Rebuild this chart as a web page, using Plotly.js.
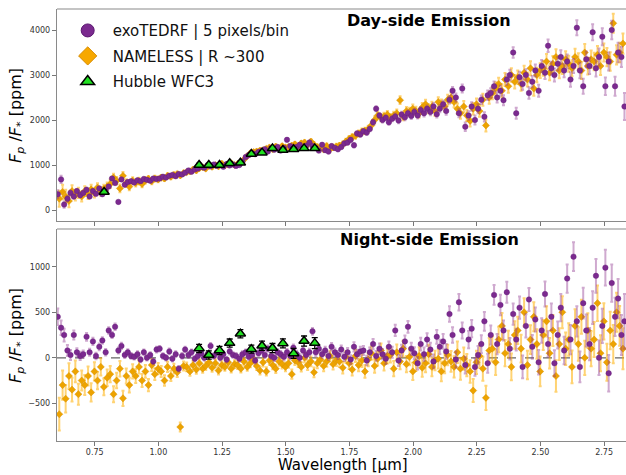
<!DOCTYPE html>
<html>
<head>
<meta charset="utf-8">
<script src="https://cdn.plot.ly/plotly-3.0.1.min.js"></script>
<style>html,body{margin:0;padding:0;background:#fff;}#chart{width:626px;height:475px;}</style>
</head>
<body>
<div id="chart"></div>
<script>
// ---- Data ----
const tedrfWave = [
0.605,0.618,0.630,0.643,0.655,0.668,0.680,0.693,
0.705,0.718,0.730,0.743,0.755,0.768,0.780,0.793,
0.805,0.818,0.830,0.843,0.855,0.868,0.880,0.893,
0.905,0.918,0.930,0.943,0.955,0.968,0.980,0.993,
1.005,1.018,1.030,1.043,1.055,1.068,1.080,1.093,
1.105,1.118,1.130,1.143,1.155,1.168,1.180,1.193,
1.205,1.218,1.230,1.243,1.255,1.268,1.280,1.293,
1.305,1.318,1.330,1.343,1.355,1.368,1.380,1.393,
1.405,1.418,1.430,1.443,1.455,1.468,1.480,1.493,
1.505,1.518,1.530,1.543,1.555,1.568,1.580,1.593,
1.605,1.618,1.630,1.643,1.655,1.668,1.680,1.693,
1.705,1.718,1.730,1.743,1.755,1.768,1.780,1.793,
1.805,1.818,1.830,1.843,1.855,1.868,1.880,1.893,
1.905,1.918,1.930,1.943,1.955,1.968,1.980,1.993,
2.005,2.018,2.030,2.043,2.055,2.068,2.080,2.093,
2.105,2.118,2.130,2.143,2.155,2.168,2.180,2.193,
2.205,2.218,2.230,2.243,2.255,2.268,2.280,2.293,
2.305,2.318,2.330,2.343,2.355,2.368,2.380,2.393,
2.405,2.418,2.430,2.443,2.455,2.468,2.480,2.493,
2.505,2.518,2.530,2.543,2.555,2.568,2.580,2.593,
2.605,2.618,2.630,2.643,2.655,2.668,2.680,2.693,
2.705,2.718,2.730,2.743,2.755,2.768,2.780,2.793,
2.805,2.818,2.830];

const tedrfErr = [
90,80,70,60,55,50,45,45,
40,42,38,40,36,38,35,36,
35,34,36,33,34,32,33,32,
30,32,30,31,30,32,30,31,
30,31,30,32,30,31,30,32,
30,32,31,30,33,31,30,32,
32,30,33,31,32,30,33,31,
32,34,33,32,35,33,34,33,
34,33,35,34,36,34,35,36,
36,35,37,36,38,36,37,38,
38,40,39,41,40,42,41,43,
44,46,45,48,47,50,49,52,
50,53,52,55,54,57,56,58,
58,60,62,60,63,65,64,66,
66,68,70,72,70,74,76,75,
78,80,82,85,84,88,90,88,
92,95,94,98,100,97,102,105,
105,108,110,112,110,115,118,116,
120,122,125,128,126,130,132,135,
135,138,140,145,142,148,150,152,
155,160,158,165,170,168,175,178,
180,185,190,188,195,200,205,210,
215,220,300];

const tedrfDay = [
350,680,120,250,380,300,420,330,
380,450,300,420,360,480,350,430,
520,700,600,180,680,560,620,640,
610,660,640,690,670,650,700,690,
700,740,720,760,780,750,800,790,
830,880,850,900,920,960,940,990,
970,1010,980,1000,960,1020,990,1010,
980,1000,1080,1180,1220,1260,1240,1290,
1310,1350,1300,1380,1340,1400,1320,1380,
1560,1420,1360,1400,1450,1380,1430,1500,
1420,1380,1320,1450,1330,1300,1420,1380,
1350,1400,1480,1500,1560,1440,1700,1680,
1750,1720,1800,1950,2250,2100,2000,2050,
1950,2030,2080,1990,2120,2060,2150,2090,
2180,2100,2220,2150,2250,2180,2300,2130,
2250,2350,2200,2450,2650,2500,2150,2700,
1850,2100,2300,2000,2250,2450,2070,2550,
2600,2750,2500,2650,2440,2900,3000,3500,
2150,2950,2800,3000,2600,2850,3100,2650,
3200,3050,3650,3150,3000,3250,3400,3100,
3300,2900,3200,4050,3100,2750,3350,3200,
3950,3150,3400,3850,2750,3300,4000,2750,
3500,3400,2300];

const tedrfNight = [
450,330,250,80,30,250,60,20,
40,230,60,180,20,120,190,60,
300,250,340,80,130,30,60,20,
10,40,-20,60,0,30,-40,90,
100,20,0,70,-10,40,-120,20,
90,30,60,-10,20,50,0,40,
130,20,60,0,40,-20,70,30,
20,-10,40,60,10,30,-30,50,
80,30,100,20,0,60,40,10,
60,20,110,40,0,80,30,60,
290,60,100,40,80,20,120,60,
30,90,10,60,-20,120,40,70,
80,-30,60,150,20,100,40,-10,
120,60,300,-30,80,180,340,100,
50,-60,150,40,200,90,-40,230,
120,180,70,480,250,-20,610,300,
-80,200,320,-100,30,150,400,-60,
250,690,150,580,300,720,100,480,
200,550,-100,350,640,120,420,-50,
300,700,150,450,-60,250,550,80,
870,200,1110,400,-100,600,300,150,
550,900,0,350,990,-170,820,450,
650,250,400];

const namelessWave = [
0.611,0.624,0.636,0.649,0.661,0.674,0.686,0.699,
0.711,0.724,0.736,0.749,0.761,0.774,0.786,0.799,
0.811,0.824,0.836,0.849,0.861,0.874,0.886,0.899,
0.911,0.924,0.936,0.949,0.961,0.974,0.986,0.999,
1.011,1.024,1.036,1.049,1.061,1.074,1.086,1.099,
1.111,1.124,1.136,1.149,1.161,1.174,1.186,1.199,
1.211,1.224,1.236,1.249,1.261,1.274,1.286,1.299,
1.311,1.324,1.336,1.349,1.361,1.374,1.386,1.399,
1.411,1.424,1.436,1.449,1.461,1.474,1.486,1.499,
1.511,1.524,1.536,1.549,1.561,1.574,1.586,1.599,
1.611,1.624,1.636,1.649,1.661,1.674,1.686,1.699,
1.711,1.724,1.736,1.749,1.761,1.774,1.786,1.799,
1.811,1.824,1.836,1.849,1.861,1.874,1.886,1.899,
1.911,1.924,1.936,1.949,1.961,1.974,1.986,1.999,
2.011,2.024,2.036,2.049,2.061,2.074,2.086,2.099,
2.111,2.124,2.136,2.149,2.161,2.174,2.186,2.199,
2.211,2.224,2.236,2.249,2.261,2.274,2.286,2.299,
2.311,2.324,2.336,2.349,2.361,2.374,2.386,2.399,
2.411,2.424,2.436,2.449,2.461,2.474,2.486,2.499,
2.511,2.524,2.536,2.549,2.561,2.574,2.586,2.599,
2.611,2.624,2.636,2.649,2.661,2.674,2.686,2.699,
2.711,2.724,2.736,2.749,2.761,2.774,2.786,2.799,
2.811,2.824];

const namelessErr = [
180,160,150,140,130,120,115,110,
110,105,100,100,95,95,92,90,
90,88,86,85,84,82,80,78,
76,74,72,70,68,66,64,62,
60,58,56,55,54,52,50,50,
48,47,46,46,45,45,44,44,
44,43,43,42,42,42,42,42,
42,42,43,43,44,44,45,45,
45,46,46,47,47,48,48,49,
49,50,50,51,52,52,53,54,
54,55,56,57,58,58,59,60,
60,62,63,64,66,67,68,70,
70,72,73,75,76,78,80,82,
82,84,85,87,88,90,92,94,
94,96,98,100,102,104,106,108,
108,110,112,114,116,118,120,122,
122,124,126,128,130,132,134,136,
136,138,140,142,144,146,148,150,
150,152,154,156,158,160,162,164,
164,166,168,170,172,174,176,178,
178,180,182,184,186,188,190,192,
192,195,198,200,203,206,210,214,
218,225];

const namelessDay = [
250,400,300,200,420,330,380,300,
420,350,460,380,500,410,470,520,
580,720,650,480,760,600,520,650,
600,640,580,660,690,640,700,680,
720,700,760,740,780,800,770,820,
840,860,900,880,930,950,920,980,
960,1000,970,1030,990,1010,1040,1000,
1020,1050,1120,1200,1260,1290,1300,1320,
1330,1360,1390,1350,1410,1370,1420,1390,
1400,1430,1460,1420,1480,1500,1450,1520,
1450,1400,1380,1350,1420,1360,1390,1410,
1430,1460,1520,1580,1620,1650,1700,1740,
1760,1800,1880,2000,2100,2050,2080,2120,
2050,2100,2150,2440,2080,2200,2180,2250,
2200,2150,2280,2350,2250,2300,2200,2400,
2350,2300,2450,2500,2400,2250,2150,2300,
2100,1980,2250,2350,2200,2450,1880,2500,
2600,2700,2800,2650,2900,2750,3000,2850,
2950,2800,3050,2900,3150,2700,3000,3100,
3150,3300,3050,3250,3400,3100,3200,3350,
3250,3150,3400,3300,3100,3500,3200,3350,
3300,3450,3200,3500,3400,3300,4150,3450,
3500,3700];

const namelessNight = [
-620,-300,-450,-200,-350,-150,-400,-250,
-300,-200,-380,-150,-250,-100,-320,-220,
-180,-400,-250,-120,-445,-200,-300,-150,
-200,-100,-250,-150,-300,-80,-180,-120,
-150,-250,-100,-200,-120,-160,-760,-90,
-100,-150,-80,-130,-60,-120,-90,-50,
-110,-60,-140,-80,-100,-50,-120,-70,
-80,-120,-40,-100,-60,-20,-90,-140,
-50,-150,-30,-80,-120,-40,-70,-100,
-60,-180,-30,-50,-100,0,-80,-40,
-160,-60,-20,-90,-40,20,-70,-30,
-40,-110,10,-60,-130,20,-80,-30,
-150,-20,50,-90,-10,80,-60,20,
30,-120,60,-40,100,-70,10,-150,
-50,20,-110,-60,40,-100,-30,-10,
-150,-60,30,-40,-100,60,-120,-10,
-80,-150,-360,-50,20,-120,-440,80,
100,-50,200,350,50,150,-100,250,
300,100,500,-80,200,450,150,-150,
250,400,50,300,-200,150,500,100,
200,-100,350,150,450,0,300,100,
200,600,50,400,-50,300,150,500,
350,100];

const wfcWaveDay = [0.787,1.160,1.198,1.240,1.280,1.322,1.365,1.407,1.448,1.489,1.531,1.572,1.614];
const wfcDay     = [400,1000,1000,1000,1040,1050,1245,1275,1370,1335,1350,1370,1370];
const wfcDayErr  = [40,35,35,35,35,35,35,35,40,40,40,40,40];
const wfcWaveNight = [1.160,1.198,1.240,1.280,1.322,1.365,1.407,1.448,1.489,1.531,1.572,1.614];
const wfcNight     = [103,30,81,161,264,95,132,107,158,48,184,161];
const wfcNightErr  = [45,45,45,45,45,45,50,50,50,55,55,60];

const xTicks = [0.75,1.00,1.25,1.50,1.75,2.00,2.25,2.50,2.75];
const xTickText = ['0.75','1.00','1.25','1.50','1.75','2.00','2.25','2.50','2.75'];
const yTicksDay = [0,1000,2000,3000,4000];
const yTicksNight = [-500,0,500,1000];
const yTickTextNight = ['\u2212500','0','500','1000'];

const seriesNames = ['exoTEDRF | 5 pixels/bin','NAMELESS | R ~300','Hubble WFC3'];

// ---- Styles ----
const PURPLE = '#7b2a8f';
const ORANGE = '#eda300';
const GREEN = '#22e022';
const FONT = 'DejaVu Sans, Liberation Sans, sans-serif';

function tedrfTrace(y, xa, ya) {
  return {x: tedrfWave, y: y, xaxis: xa, yaxis: ya, type: 'scatter', mode: 'markers', showlegend: false,
    marker: {symbol: 'circle', size: 5.5, color: PURPLE, line: {width: 0.4, color: '#661c7a'}},
    error_y: {type: 'data', array: tedrfErr, visible: true, color: 'rgba(140,50,140,0.42)', thickness: 2, width: 1.5},
    hoverinfo: 'skip'};
}
function namelessTrace(y, xa, ya) {
  return {x: namelessWave, y: y, xaxis: xa, yaxis: ya, type: 'scatter', mode: 'markers', showlegend: false,
    marker: {symbol: 'diamond', size: 5.5, color: ORANGE, line: {width: 0.4, color: '#d08a00'}},
    error_y: {type: 'data', array: namelessErr, visible: true, color: 'rgba(255,175,0,0.55)', thickness: 2, width: 1.5},
    hoverinfo: 'skip'};
}
function wfcTrace(x, y, e, xa, ya) {
  return {x: x, y: y, xaxis: xa, yaxis: ya, type: 'scatter', mode: 'markers', showlegend: false,
    marker: {symbol: 'triangle-up', size: 9, color: GREEN, line: {width: 1.5, color: '#000'}},
    error_y: {type: 'data', array: e, visible: true, color: '#000', thickness: 1.3, width: 3},
    hoverinfo: 'skip'};
}

const data = [
  namelessTrace(namelessDay, 'x', 'y'),
  tedrfTrace(tedrfDay, 'x', 'y'),
  wfcTrace(wfcWaveDay, wfcDay, wfcDayErr, 'x', 'y'),
  namelessTrace(namelessNight, 'x2', 'y2'),
  tedrfTrace(tedrfNight, 'x2', 'y2'),
  wfcTrace(wfcWaveNight, wfcNight, wfcNightErr, 'x2', 'y2'),
  // legend entries
  {x: [null], y: [null], xaxis: 'x', yaxis: 'y', type: 'scatter', mode: 'markers', name: seriesNames[0], legendgroup: 'a',
   marker: {symbol: 'circle', size: 13, color: PURPLE, line: {width: 1, color: '#5a1670'}}},
  {x: [null], y: [null], xaxis: 'x', yaxis: 'y', type: 'scatter', mode: 'markers', name: seriesNames[1], legendgroup: 'b',
   marker: {symbol: 'diamond', size: 14, color: '#f7a800', line: {width: 1, color: '#d88c00'}}},
  {x: [null], y: [null], xaxis: 'x', yaxis: 'y', type: 'scatter', mode: 'markers', name: seriesNames[2], legendgroup: 'c',
   marker: {symbol: 'triangle-up', size: 12, color: GREEN, line: {width: 1.5, color: '#000'}}}
];

const axisCommon = {showgrid: false, zeroline: false, showline: true, linecolor: '#8a8a8a', linewidth: 1.2,
  ticks: 'outside', ticklen: 4, tickwidth: 1, tickcolor: '#777',
  tickfont: {family: FONT, size: 8, color: '#333'}};

const layout = {
  width: 626, height: 475,
  margin: {l: 57, r: 0, t: 9, b: 34, pad: 0},
  paper_bgcolor: '#fff', plot_bgcolor: '#fff',
  font: {family: FONT},
  showlegend: true,
  legend: {x: 0.010, y: 0.988, xanchor: 'left', yanchor: 'top', bgcolor: 'rgba(0,0,0,0)',
    font: {family: FONT, size: 15, color: '#111'}, tracegroupgap: 3, itemwidth: 40},
  xaxis: Object.assign({}, axisCommon, {domain: [0, 1], anchor: 'y', range: [0.602, 2.836],
    tickmode: 'array', tickvals: xTicks, showticklabels: false}),
  yaxis: Object.assign({}, axisCommon, {domain: [0.5093, 1], anchor: 'x', range: [-244, 4467],
    tickmode: 'array', tickvals: yTicksDay, ticktext: yTicksDay.map(String)}),
  xaxis2: Object.assign({}, axisCommon, {domain: [0, 1], anchor: 'y2', range: [0.602, 2.836],
    tickmode: 'array', tickvals: xTicks, ticktext: xTickText, ticklen: 3.5}),
  yaxis2: Object.assign({}, axisCommon, {domain: [0, 0.4907], anchor: 'x2', range: [-914, 1414],
    tickmode: 'array', tickvals: yTicksNight, ticktext: yTickTextNight}),
  shapes: [
    {type: 'line', xref: 'x domain', yref: 'y domain', x0: 0, x1: 1, y0: 1, y1: 1,
     line: {color: '#c4c4c4', width: 2}},
    {type: 'line', xref: 'x2 domain', yref: 'y2 domain', x0: 0, x1: 1, y0: 1, y1: 1,
     line: {color: '#c4c4c4', width: 2}},
    {type: 'line', xref: 'x2 domain', yref: 'y2', x0: 0, x1: 1, y0: 0, y1: 0,
     line: {color: '#666', width: 1.2, dash: 'dash'}, layer: 'below'}
  ],
  annotations: [
    {text: '<b>Day-side Emission</b>', xref: 'paper', yref: 'paper', x: 0.653, y: 0.9745,
     xanchor: 'center', yanchor: 'middle', showarrow: false, font: {family: FONT, size: 16, color: '#000'}},
    {text: '<b>Night-side Emission</b>', xref: 'paper', yref: 'paper', x: 0.654, y: 0.4653,
     xanchor: 'center', yanchor: 'middle', showarrow: false, font: {family: FONT, size: 16, color: '#000'}},
    {text: '<i>F<sub>p</sub></i> /<i>F</i><sub>*</sub> [ppm]', xref: 'paper', yref: 'paper', x: -0.0703, y: 0.7547,
     xanchor: 'center', yanchor: 'middle', textangle: -90, showarrow: false, font: {family: FONT, size: 16, color: '#000'}},
    {text: '<i>F<sub>p</sub></i> /<i>F</i><sub>*</sub> [ppm]', xref: 'paper', yref: 'paper', x: -0.0703, y: 0.2454,
     xanchor: 'center', yanchor: 'middle', textangle: -90, showarrow: false, font: {family: FONT, size: 16, color: '#000'}},
    {text: 'Wavelength [\u03bcm]', xref: 'paper', yref: 'paper', x: 0.5035, y: -0.0565,
     xanchor: 'center', yanchor: 'middle', showarrow: false, font: {family: FONT, size: 15, color: '#000'}}
  ]
};

Plotly.newPlot('chart', data, layout, {displayModeBar: false, staticPlot: true});
</script>
</body>
</html>
